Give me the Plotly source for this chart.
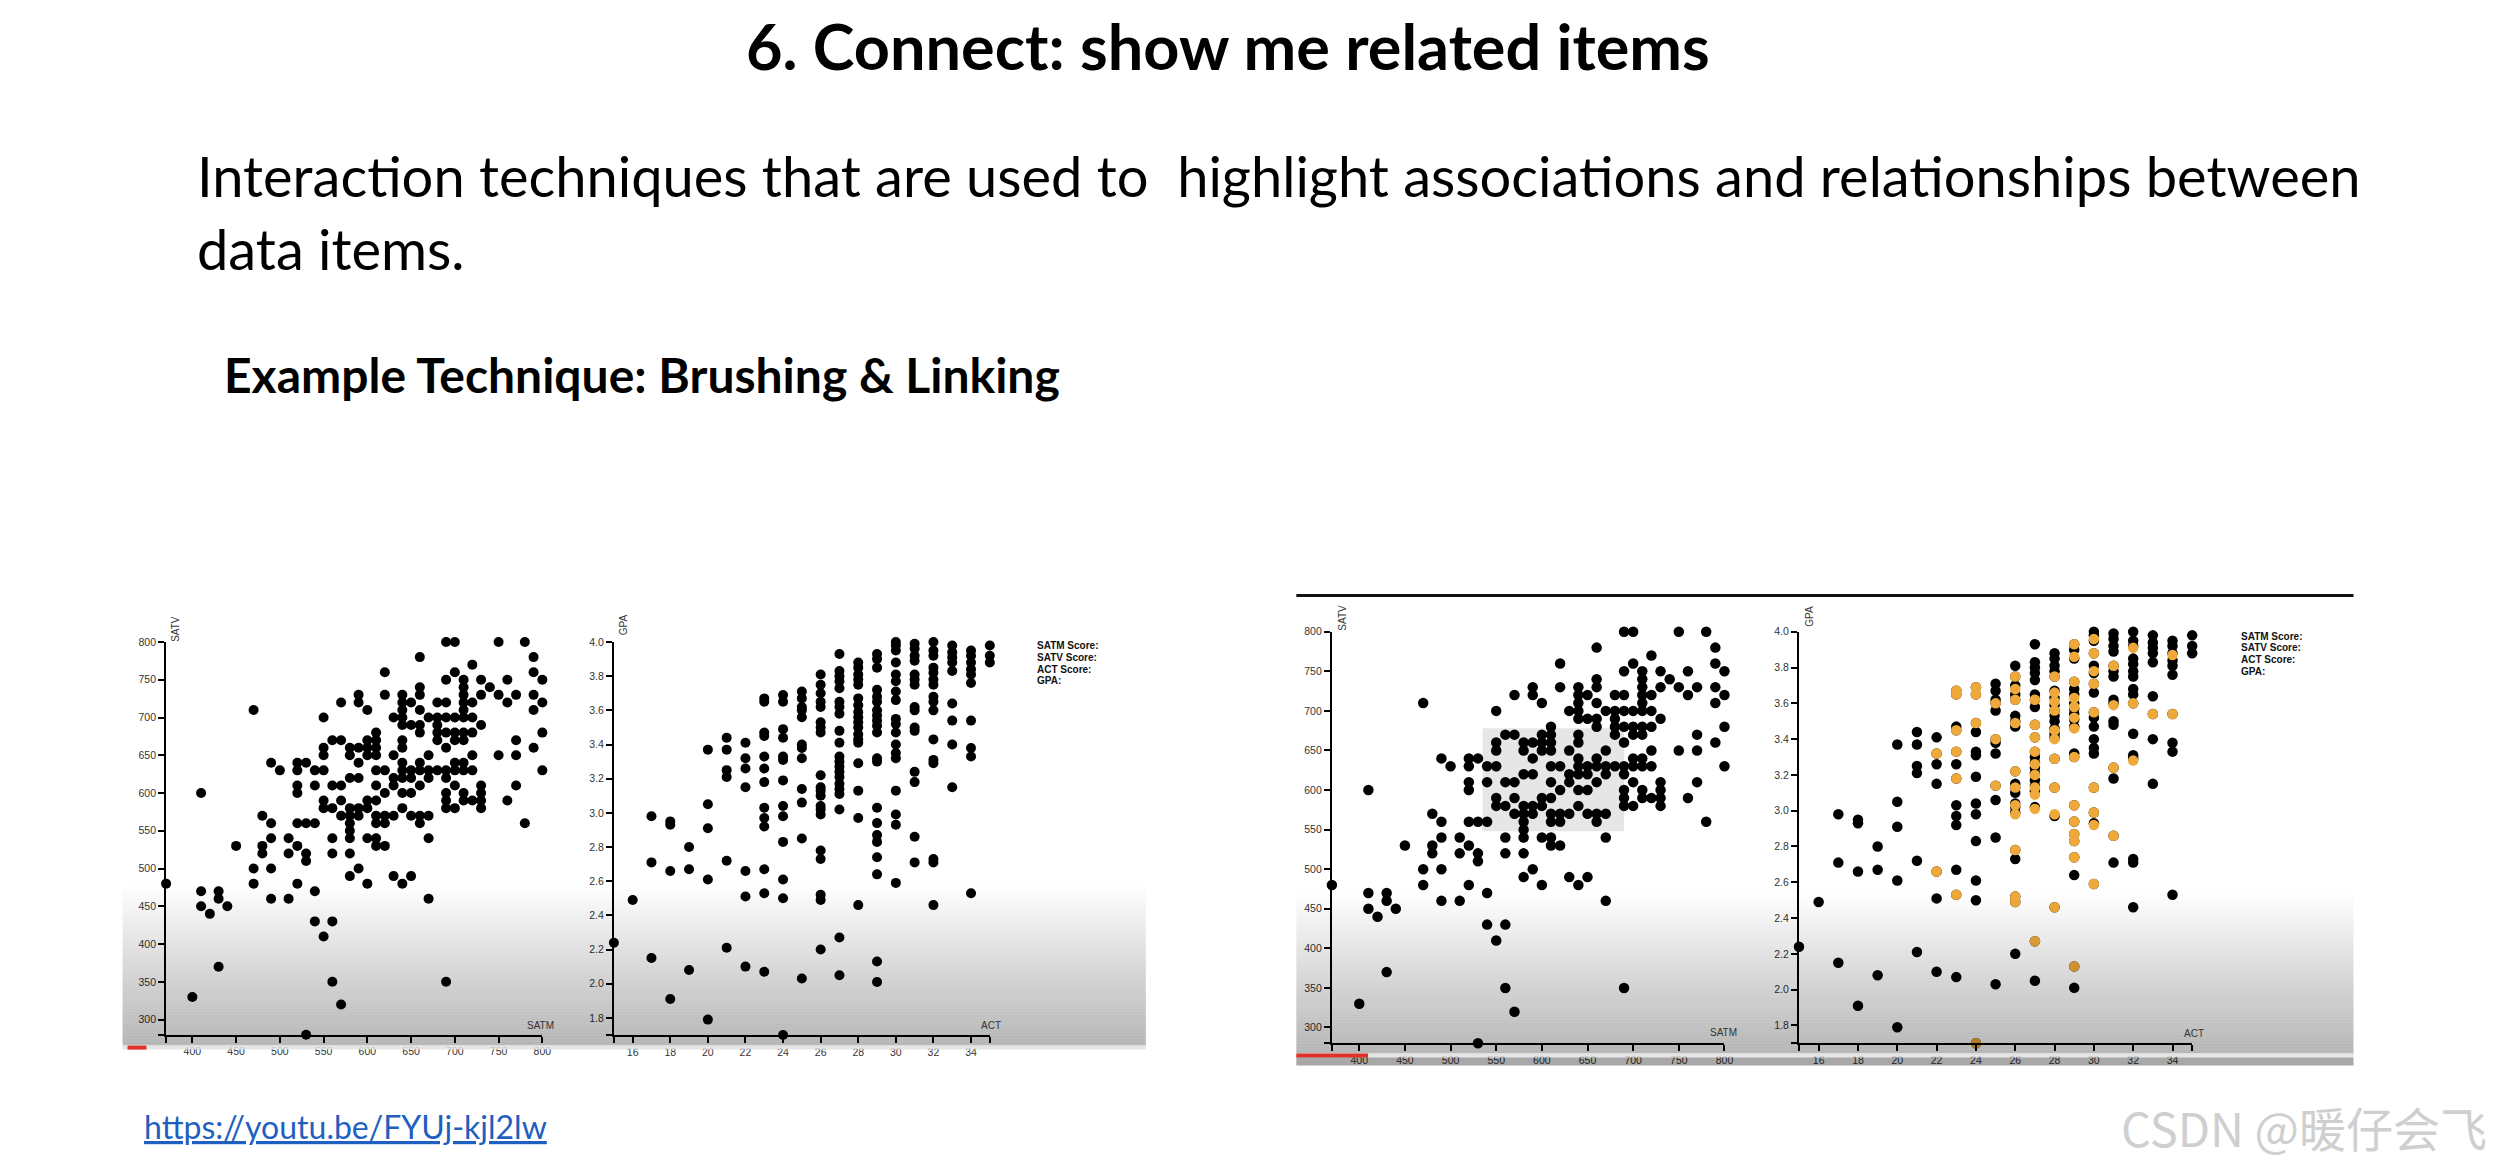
import plotly.graph_objects as go

W, H = 2498, 1164

# ---------------- data: SAT scatter (SATM vs SATV) ----------------
satm = [690, 700, 750, 780,
        660, 790,
        720,
        620, 700, 790,
        690, 710, 730, 760, 800,
        660, 710, 740,
        590, 620, 640, 660, 710, 730, 750, 770, 790,
        570, 590, 640, 650, 680, 690, 710, 720, 760, 800,
        470, 600, 640, 660, 710, 790,
        550, 630, 640, 670, 680, 690, 700, 710, 720,
        640, 650, 660, 680, 730,
        610, 660, 680, 690, 700, 710, 720, 800,
        560, 570, 600, 610, 640, 680, 700, 710, 770,
        550, 580, 590, 600, 610, 640, 690, 790,
        550, 580, 600, 610, 630, 670, 720, 750, 770,
        490, 520, 530, 590, 640, 660, 700, 710,
        500, 520, 540, 550, 610, 620, 640, 650, 660, 670, 680, 690, 700, 710, 720, 800,
        580, 590, 630, 640, 650, 670, 690,
        520, 540, 560, 570, 610, 630, 660, 700, 730, 770,
        410, 520, 620, 640, 650, 690, 710, 730,
        550, 570, 600, 610, 690, 710, 720, 730, 760,
        550, 560, 580, 590, 600, 640, 690, 700, 730,
        480, 570, 580, 590, 610, 620, 630, 650, 660, 670,
        490, 520, 530, 540, 580, 610, 620, 660, 780,
        580,
        490, 510, 560, 580, 600, 610, 670,
        450, 480, 520, 610, 620,
        480, 510, 530, 560, 580,
        530,
        470, 490, 590,
        580, 630, 650,
        370, 470, 520, 600, 640,
        410, 430, 540,
        430, 490, 510, 670,
        410, 440,
        420,
        540, 560,
        550,
        430,
        560, 690,
        400,
        570,
        530]
satv = [800, 800, 800, 800,
        780, 780,
        770,
        760, 760, 760,
        750, 750, 750, 750, 750,
        740, 740, 740,
        730, 730, 730, 730, 730, 730, 730, 730, 730,
        720, 720, 720, 720, 720, 720, 720, 720, 720, 720,
        710, 710, 710, 710, 710, 710,
        700, 700, 700, 700, 700, 700, 700, 700, 700,
        690, 690, 690, 690, 690,
        680, 680, 680, 680, 680, 680, 680, 680,
        670, 670, 670, 670, 670, 670, 670, 670, 670,
        660, 660, 660, 660, 660, 660, 660, 660,
        650, 650, 650, 650, 650, 650, 650, 650, 650,
        640, 640, 640, 640, 640, 640, 640, 640,
        630, 630, 630, 630, 630, 630, 630, 630, 630, 630, 630, 630, 630, 630, 630, 630,
        620, 620, 620, 620, 620, 620, 620,
        610, 610, 610, 610, 610, 610, 610, 610, 610, 610,
        600, 600, 600, 600, 600, 600, 600, 600,
        590, 590, 590, 590, 590, 590, 590, 590, 590,
        580, 580, 580, 580, 580, 580, 580, 580, 580,
        570, 570, 570, 570, 570, 570, 570, 570, 570, 570,
        560, 560, 560, 560, 560, 560, 560, 560, 560,
        550,
        540, 540, 540, 540, 540, 540, 540,
        530, 530, 530, 530, 530,
        520, 520, 520, 520, 520,
        510,
        500, 500, 500,
        490, 490, 490,
        480, 480, 480, 480, 480,
        470, 470, 470,
        460, 460, 460, 460,
        450, 450,
        440,
        430, 430,
        410,
        370,
        350, 350,
        330,
        320,
        280]
assert len(satm) == len(satv)

# ---------------- data: ACT vs GPA scatter ----------------
act = [15,
       16,
       17, 17, 17,
       18, 18, 18, 18,
       19, 19, 19,
       20, 20, 20, 20, 20,
       21, 21, 21, 21, 21, 21,
       22, 22, 22, 22, 22, 22, 22,
       23, 23, 23, 23, 23, 23, 23, 23, 23, 23, 23, 23, 23,
       24, 24, 24, 24, 24, 24, 24, 24, 24, 24, 24, 24, 24,
       25, 25, 25, 25, 25, 25, 25, 25, 25, 25, 25, 25,
       26, 26, 26, 26, 26, 26, 26, 26, 26, 26, 26, 26, 26, 26, 26, 26, 26, 26, 26, 26,
       27, 27, 27, 27, 27, 27, 27, 27, 27, 27, 27, 27, 27, 27, 27, 27, 27, 27, 27, 27, 27,
       28, 28, 28, 28, 28, 28, 28, 28, 28, 28, 28, 28, 28, 28, 28, 28, 28, 28,
       29, 29, 29, 29, 29, 29, 29, 29, 29, 29, 29, 29, 29, 29, 29, 29, 29, 29, 29, 29, 29,
       30, 30, 30, 30, 30, 30, 30, 30, 30, 30, 30, 30, 30, 30, 30, 30, 30, 30,
       31, 31, 31, 31, 31, 31, 31, 31, 31, 31, 31, 31, 31, 31, 31,
       32, 32, 32, 32, 32, 32, 32, 32, 32, 32, 32, 32, 32, 32, 32, 32,
       33, 33, 33, 33, 33, 33, 33, 33, 33,
       34, 34, 34, 34, 34, 34, 34, 34, 34, 34,
       35, 35, 35]
gpa = [2.24,
       2.49,
       2.98, 2.71, 2.15,
       2.95, 2.93, 2.66, 1.91,
       2.80, 2.67, 2.08,
       3.37, 3.05, 2.91, 2.61, 1.79,
       3.44, 3.37, 3.25, 3.21, 2.72, 2.21,
       3.41, 3.32, 3.26, 3.15, 2.66, 2.51, 2.10,
       3.67, 3.65, 3.47, 3.45, 3.33, 3.26, 3.18, 3.03, 2.97, 2.92, 2.67, 2.53, 2.07,
       3.69, 3.65, 3.49, 3.44, 3.33, 3.31, 3.19, 3.04, 2.98, 2.83, 2.61, 2.50, 1.70,
       3.71, 3.67, 3.62, 3.60, 3.56, 3.40, 3.38, 3.32, 3.14, 3.06, 2.85, 2.03,
       3.81, 3.75, 3.70, 3.65, 3.62, 3.53, 3.50, 3.47, 3.22, 3.15, 3.13, 3.10, 3.04, 3.02, 2.99, 2.78, 2.73, 2.52, 2.49, 2.20,
       3.93, 3.83, 3.80, 3.77, 3.73, 3.65, 3.62, 3.58, 3.48, 3.41, 3.33, 3.30, 3.27, 3.24, 3.21, 3.17, 3.14, 3.11, 3.02, 2.27, 2.05,
       3.88, 3.85, 3.81, 3.78, 3.75, 3.67, 3.63, 3.59, 3.56, 3.53, 3.50, 3.46, 3.43, 3.41, 3.29, 3.13, 2.97, 2.46,
       3.93, 3.90, 3.85, 3.72, 3.68, 3.65, 3.60, 3.57, 3.54, 3.51, 3.47, 3.32, 3.30, 3.03, 2.94, 2.87, 2.83, 2.74, 2.64, 2.13, 2.01,
       4.00, 3.98, 3.95, 3.88, 3.81, 3.77, 3.71, 3.66, 3.55, 3.52, 3.47, 3.40, 3.35, 3.32, 3.13, 2.99, 2.93, 2.59,
       3.99, 3.96, 3.92, 3.89, 3.81, 3.78, 3.75, 3.62, 3.60, 3.50, 3.48, 3.24, 3.18, 2.86, 2.71,
       4.00, 3.95, 3.92, 3.85, 3.82, 3.78, 3.75, 3.68, 3.65, 3.60, 3.43, 3.31, 3.29, 2.73, 2.71, 2.46,
       3.98, 3.94, 3.91, 3.88, 3.83, 3.64, 3.54, 3.40, 3.15,
       3.95, 3.92, 3.88, 3.84, 3.81, 3.76, 3.54, 3.38, 3.33, 2.53,
       3.98, 3.92, 3.88]
assert len(act) == len(gpa)

# brushed (linked) items, highlighted in the right-hand ACT/GPA view
act_hi = [22, 22,
          23, 23, 23, 23, 23, 23,
          24, 24, 24, 24,
          25, 25, 25,
          26, 26, 26, 26, 26, 26, 26, 26, 26, 26, 26,
          27, 27, 27, 27, 27, 27, 27, 27, 27, 27,
          28, 28, 28, 28, 28, 28, 28, 28, 28, 28,
          29, 29, 29, 29, 29, 29, 29, 29, 29, 29, 29, 29, 29, 29,
          30, 30, 30, 30, 30, 30, 30, 30, 30,
          31, 31, 31, 31,
          32, 32, 32,
          33,
          34, 34]
gpa_hi = [3.32, 2.66,
          3.67, 3.65, 3.45, 3.33, 3.18, 2.53,
          3.69, 3.65, 3.49, 1.70,
          3.60, 3.40, 3.14,
          3.75, 3.68, 3.62, 3.49, 3.22, 3.13, 3.03, 2.98, 2.78, 2.52, 2.49,
          3.62, 3.48, 3.41, 3.33, 3.26, 3.20, 3.13, 3.09, 3.01, 2.27,
          3.75, 3.66, 3.61, 3.56, 3.45, 3.40, 3.29, 3.13, 2.98, 2.46,
          3.93, 3.86, 3.72, 3.63, 3.58, 3.52, 3.46, 3.30, 3.03, 2.94, 2.87, 2.83, 2.74, 2.13,
          3.96, 3.88, 3.78, 3.71, 3.55, 3.13, 2.99, 2.92, 2.59,
          3.81, 3.59, 3.24, 2.86,
          3.91, 3.60, 3.28,
          3.54,
          3.87, 3.54]
assert len(act_hi) == len(gpa_hi)

# brush extent drawn on the right SAT view
brush_satm = [535, 690]
brush_satv = [548, 678]

# tick labels
sat_x_ticks = [370, 400, 450, 500, 550, 600, 650, 700, 750, 800]
sat_x_text = ["", "400", "450", "500", "550", "600", "650", "700", "750", "800"]
sat_y_ticks = [280, 300, 350, 400, 450, 500, 550, 600, 650, 700, 750, 800]
sat_y_text = ["", "300", "350", "400", "450", "500", "550", "600", "650", "700", "750", "800"]
act_ticks = [15, 16, 18, 20, 22, 24, 26, 28, 30, 32, 34, 35]
act_text = ["", "16", "18", "20", "22", "24", "26", "28", "30", "32", "34", ""]
gpa_ticks = [1.7, 1.8, 2.0, 2.2, 2.4, 2.6, 2.8, 3.0, 3.2, 3.4, 3.6, 3.8, 4.0]
gpa_text = ["", "1.8", "2.0", "2.2", "2.4", "2.6", "2.8", "3.0", "3.2", "3.4", "3.6", "3.8", "4.0"]

legend_lines = ["SATM Score:", "SATV Score:", "ACT Score:", "GPA:"]

BLACK = "#000000"
ORANGE = "#EFA93A"
TICKFONT = dict(family="Liberation Sans, Arial, sans-serif", size=10.5, color="#333333")
LABELFONT = dict(family="Liberation Sans, Arial, sans-serif", size=10, color="#333333")


def px_x(p):
    return p / W


def px_y(p):
    return 1 - p / H


def xaxis(dom, rng, tv, tt, anchor):
    return dict(domain=[px_x(dom[0]), px_x(dom[1])], range=rng, anchor=anchor,
                showline=True, linecolor="black", linewidth=2, ticks="outside",
                ticklen=6, tickwidth=1.5, tickcolor="black", tickvals=tv, ticktext=tt,
                tickfont=TICKFONT, showgrid=False, zeroline=False, fixedrange=True)


def yaxis(dom, rng, tv, tt, anchor):
    return dict(domain=[px_y(dom[1]), px_y(dom[0])], range=rng, anchor=anchor,
                showline=True, linecolor="black", linewidth=2, ticks="outside",
                ticklen=6, tickwidth=1.5, tickcolor="black", tickvals=tv, ticktext=tt,
                tickfont=TICKFONT, showgrid=False, zeroline=False, fixedrange=True)


fig = go.Figure()

# left pair
fig.add_trace(go.Scatter(x=satm, y=satv, mode="markers", xaxis="x", yaxis="y",
                         marker=dict(size=10, color=BLACK, line=dict(width=0)), cliponaxis=False))
fig.add_trace(go.Scatter(x=act, y=gpa, mode="markers", xaxis="x2", yaxis="y2",
                         marker=dict(size=10, color=BLACK, line=dict(width=0)), cliponaxis=False))
# right pair
fig.add_trace(go.Scatter(x=satm, y=satv, mode="markers", xaxis="x3", yaxis="y3",
                         marker=dict(size=10.5, color=BLACK, line=dict(width=0)), cliponaxis=False))
fig.add_trace(go.Scatter(x=act, y=gpa, mode="markers", xaxis="x4", yaxis="y4",
                         marker=dict(size=10.5, color=BLACK, line=dict(width=0)), cliponaxis=False))
fig.add_trace(go.Scatter(x=act_hi, y=gpa_hi, mode="markers", xaxis="x4", yaxis="y4",
                         marker=dict(size=10.5, color=ORANGE, line=dict(width=0)), cliponaxis=False))

shapes = []

# brush rectangle on right SAT view
shapes.append(dict(type="rect", xref="x3", yref="y3", x0=brush_satm[0], x1=brush_satm[1],
                   y0=brush_satv[0], y1=brush_satv[1], fillcolor="#e6e6e6",
                   line=dict(width=0), layer="below"))

# video-frame overlay gradients


def gradient(x0, x1, y0, y1, a1, step=3):
    y = y0
    while y < y1:
        yb = min(y + step, y1)
        t = ((y + yb) / 2 - y0) / (y1 - y0)
        a = a1 * t
        shapes.append(dict(type="rect", xref="paper", yref="paper",
                           x0=px_x(x0), x1=px_x(x1), y0=px_y(yb), y1=px_y(y),
                           fillcolor=f"rgba(0,0,0,{a:.3f})", line=dict(width=0),
                           layer="above"))
        y = yb


def rect(x0, x1, y0, y1, color):
    shapes.append(dict(type="rect", xref="paper", yref="paper",
                       x0=px_x(x0), x1=px_x(x1), y0=px_y(y1), y1=px_y(y0),
                       fillcolor=color, line=dict(width=0), layer="above"))


# left frame
gradient(123, 1150, 882, 1045, 0.29)
rect(123, 1150, 1045, 1049, "rgba(225,225,225,0.85)")
rect(128, 147, 1045, 1049, "#e0302a")

# right frame
rect(1301, 2362, 591, 594, "#111111")
gradient(1301, 2362, 890, 1053, 0.29)
rect(1301, 2362, 1053, 1057, "rgba(225,225,225,0.85)")
rect(1301, 1373, 1053, 1057, "#e0302a")
rect(1301, 2362, 1057, 1065, "rgba(0,0,0,0.34)")

annotations = []


def text(x, y, s, font, xanchor="left", yanchor="middle", angle=0, **kw):
    d = dict(x=px_x(x), y=px_y(y), xref="paper", yref="paper", text=s,
             showarrow=False, xanchor=xanchor, yanchor=yanchor,
             font=font, textangle=angle)
    d.update(kw)
    annotations.append(d)


LATO = "Lato, 'Open Sans', sans-serif"
text(1232, 40, "<b>6. Connect: show me related items</b>",
     dict(family=LATO, size=63, color="#000000"), xanchor="center")
text(196, 207.5,
     "Interaction techniques that are used to  highlight associations and relationships between"
     "<br>data items.",
     dict(family=LATO, size=56, color="#000000"), align="left")
text(223, 370, "<b>Example Technique: Brushing &amp; Linking</b>",
     dict(family=LATO, size=48, color="#000000"))
text(143, 1126,
     "<span style='text-decoration:underline'>https://youtu.be/FYUj-kjl2lw</span>",
     dict(family=LATO, size=32, color="#1f5fbf"))
text(2127, 1126, "CSDN @暖仔会飞",
     dict(family="Noto Sans CJK SC, sans-serif", size=47, color="#cfcfcf"))

# axis titles
text(176.7, 626, "SATV", LABELFONT, xanchor="center", angle=-90)
text(542, 1025, "SATM", LABELFONT, xanchor="center")
text(625.7, 622, "GPA", LABELFONT, xanchor="center", angle=-90)
text(995, 1025, "ACT", LABELFONT, xanchor="center")
text(1347.7, 615, "SATV", LABELFONT, xanchor="center", angle=-90)
text(1729.3, 1032, "SATM", LABELFONT, xanchor="center")
text(1816.5, 613, "GPA", LABELFONT, xanchor="center", angle=-90)
text(2202, 1033, "ACT", LABELFONT, xanchor="center")

# hover legend text blocks
LEGFONT = dict(family="Liberation Sans, Arial, sans-serif", size=10, color="#111111")
for i, s in enumerate(legend_lines):
    text(1039, 643.3 + i * 11.7, "<b>" + s + "</b>", LEGFONT)
    text(2247, 633.3 + i * 12.0, "<b>" + s + "</b>", LEGFONT)

fig.update_layout(
    width=W, height=H, autosize=False,
    margin=dict(l=0, r=0, t=0, b=0, pad=0),
    paper_bgcolor="white", plot_bgcolor="rgba(0,0,0,0)",
    showlegend=False,
    xaxis=xaxis((166.7, 544.3), [370, 800], sat_x_ticks, sat_x_text, "y"),
    yaxis=yaxis((639.3, 1034.0), [280, 800], sat_y_ticks, sat_y_text, "x"),
    xaxis2=xaxis((616.1, 993.4), [15, 35], act_ticks, act_text, "y2"),
    yaxis2=yaxis((639.3, 1034.3), [1.7, 4.0], gpa_ticks, gpa_text, "x2"),
    xaxis3=xaxis((1336.7, 1730.7), [370, 800], sat_x_ticks, sat_x_text, "y3"),
    yaxis3=yaxis((629.0, 1042.7), [280, 800], sat_y_ticks, sat_y_text, "x3"),
    xaxis4=xaxis((1805.5, 2200.1), [15, 35], act_ticks, act_text, "y4"),
    yaxis4=yaxis((629.0, 1042.7), [1.7, 4.0], gpa_ticks, gpa_text, "x4"),
    shapes=shapes,
    annotations=annotations,
)

fig.write_html("out.html", config=dict(displayModeBar=False),
               post_script="document.body.style.margin='0';document.body.style.overflow='hidden';")
